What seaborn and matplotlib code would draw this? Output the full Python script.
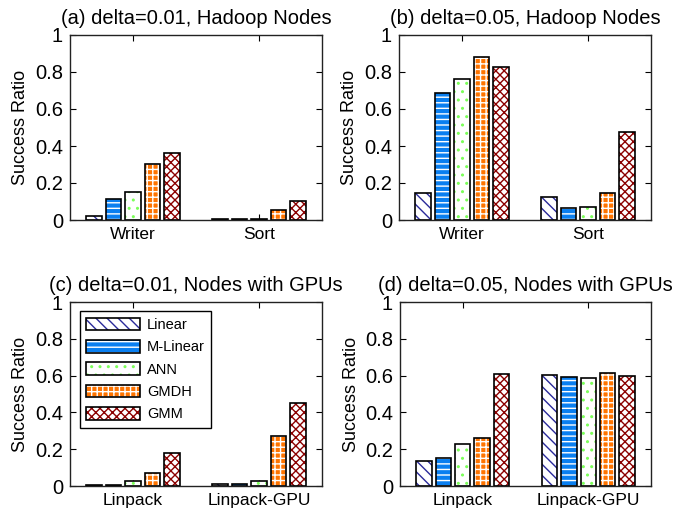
import matplotlib
matplotlib.use("Agg")
import matplotlib.pyplot as plt
from matplotlib.patches import Rectangle, Patch
import seaborn as sns
import pandas as pd

# ---- data ----
methods = ["Linear", "M-Linear", "ANN", "GMDH", "GMM"]

titles = ["(a) delta=0.01, Hadoop Nodes", "(b) delta=0.05, Hadoop Nodes",
          "(c) delta=0.01, Nodes with GPUs", "(d) delta=0.05, Nodes with GPUs"]

cats_hadoop = ["Writer", "Sort"]
cats_gpu = ["Linpack", "Linpack-GPU"]

# values per method: [first category, second category]
a_linear = [0.023, 0.006]
a_mlinear = [0.115, 0.006]
a_ann = [0.153, 0.006]
a_gmdh = [0.305, 0.052]
a_gmm = [0.36, 0.103]

b_linear = [0.147, 0.124]
b_mlinear = [0.688, 0.065]
b_ann = [0.762, 0.072]
b_gmdh = [0.883, 0.144]
b_gmm = [0.825, 0.477]

c_linear = [0.006, 0.012]
c_mlinear = [0.006, 0.012]
c_ann = [0.025, 0.025]
c_gmdh = [0.071, 0.274]
c_gmm = [0.179, 0.449]

d_linear = [0.136, 0.601]
d_mlinear = [0.150, 0.592]
d_ann = [0.230, 0.587]
d_gmdh = [0.259, 0.614]
d_gmm = [0.609, 0.600]

yticks = [0, 0.2, 0.4, 0.6, 0.8, 1]
ytick_labels = ["0", "0.2", "0.4", "0.6", "0.8", "1"]

# ---- style ----
face = {"Linear": "white", "M-Linear": "#0a7ff0", "ANN": "white",
        "GMDH": "#ff7400", "GMM": "white"}
hatchc = {"Linear": "#2a2a9a", "M-Linear": "white", "ANN": "#7cff5a",
          "GMDH": "white", "GMM": "#8b0000"}
hatches = {"Linear": "\\\\\\", "M-Linear": "---", "ANN": "..",
           "GMDH": "+++", "GMM": "xxxx"}

sns.set_style("white")
plt.rcParams["font.family"] = ["Liberation Sans", "DejaVu Sans"]
plt.rcParams["hatch.linewidth"] = 1.0
plt.rcParams["text.color"] = "black"
plt.rcParams["axes.labelcolor"] = "black"
plt.rcParams["xtick.color"] = "black"
plt.rcParams["ytick.color"] = "black"


def make_df(cats, series):
    rows = []
    for m, vals in zip(methods, series):
        for c, v in zip(cats, vals):
            rows.append({"bench": c, "ratio": v, "method": m})
    return pd.DataFrame(rows)


panels = [
    (cats_hadoop, [a_linear, a_mlinear, a_ann, a_gmdh, a_gmm]),
    (cats_hadoop, [b_linear, b_mlinear, b_ann, b_gmdh, b_gmm]),
    (cats_gpu, [c_linear, c_mlinear, c_ann, c_gmdh, c_gmm]),
    (cats_gpu, [d_linear, d_mlinear, d_ann, d_gmdh, d_gmm]),
]

fig = plt.figure(figsize=(6.94, 5.13), dpi=100)
W, H = 694, 513
boxes = [(70, 35, 322, 220), (399, 35, 651, 220),
         (70, 302, 322, 486), (400, 302, 651, 486)]

axes = []
for (l, t, r, b) in boxes:
    axes.append(fig.add_axes([l / W, 1 - b / H, (r - l) / W, (b - t) / H]))

for ax, (cats, series), title in zip(axes, panels, titles):
    df = make_df(cats, series)
    sns.barplot(data=df, x="bench", y="ratio", hue="method",
                hue_order=methods, order=cats, ax=ax, width=0.77, gap=0.2,
                legend=False, errorbar=None)
    for cont, m in zip(ax.containers, methods):
        for p in cont.patches:
            p.set_facecolor(face[m])
            p.set_edgecolor(hatchc[m])
            p.set_hatch(hatches[m])
            p.set_linewidth(0)
            ax.add_patch(Rectangle(p.get_xy(), p.get_width(), p.get_height(),
                                   facecolor="none", edgecolor="black",
                                   linewidth=1.2, zorder=p.get_zorder() + 0.1))
    ax.set_xlim(-0.5, 1.5)
    ax.set_ylim(0, 1)
    ax.set_yticks(yticks)
    ax.set_yticklabels(ytick_labels)
    ax.set_xlabel("")
    ax.set_ylabel("Success Ratio", fontsize=13, labelpad=4, color="black")
    ax.set_title(title, fontsize=14.5, pad=8, color="black")
    ax.tick_params(axis="y", labelsize=14.5, direction="in", length=4,
                   right=True, left=True, pad=5, width=0.8, colors="black")
    ax.tick_params(axis="x", labelsize=12.5, direction="in", length=4,
                   top=True, bottom=True, pad=5, width=0.8, colors="black")
    for s in ax.spines.values():
        s.set_visible(True)
        s.set_color("#222222")
        s.set_linewidth(1.0)

# legend in panel (c)
handles = []
for m in methods:
    h1 = Patch(facecolor=face[m], edgecolor=hatchc[m], hatch=hatches[m], linewidth=0)
    h2 = Patch(facecolor="none", edgecolor="black", linewidth=1.2)
    handles.append((h1, h2))
leg = axes[2].legend(handles, methods, loc="upper left", fontsize=10.5,
                     handlelength=3.7, handleheight=0.95, labelspacing=0.55,
                     handletextpad=0.45, borderpad=0.45, borderaxespad=0.5,
                     frameon=True, fancybox=False, framealpha=1,
                     bbox_to_anchor=(0.01, 0.99))
leg.get_frame().set_edgecolor("black")
leg.get_frame().set_linewidth(1.0)
for t in leg.get_texts():
    t.set_color("black")

fig.savefig("out.png", dpi=100)
